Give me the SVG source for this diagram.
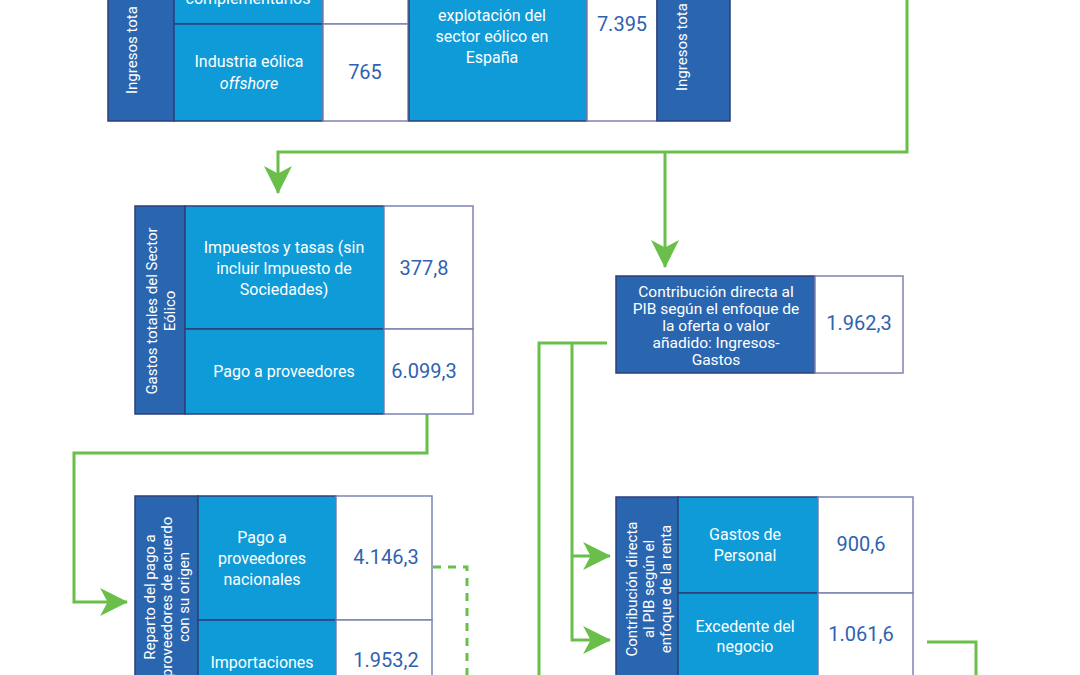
<svg xmlns="http://www.w3.org/2000/svg" width="1080" height="675" viewBox="0 0 1080 675">
<defs>
<style>
.dk{fill:#2a66b0;stroke:#2f3f78;stroke-width:1.5}
.lb{fill:#0e9bd7;stroke:#2f3f78;stroke-width:1.5}
.wh{fill:#ffffff;stroke:#7f82b4;stroke-width:1.5}
.t{font-family:Roboto,"Liberation Sans",sans-serif;font-size:16px;font-weight:400;fill:#ffffff;text-anchor:middle}
.s{font-family:Roboto,"Liberation Sans",sans-serif;font-size:15.5px;font-weight:400;fill:#ffffff;text-anchor:middle}
.r{font-family:Roboto,"Liberation Sans",sans-serif;font-size:15px;font-weight:400;fill:#ffffff;text-anchor:middle}
.v{font-family:Roboto,"Liberation Sans",sans-serif;font-size:20px;font-weight:400;fill:#2f62b0;text-anchor:middle}
.c{fill:none;stroke:#6abf4b;stroke-width:3}
.d{fill:none;stroke:#6abf4b;stroke-width:3;stroke-dasharray:8 7}
</style>
<marker id="ar" markerUnits="userSpaceOnUse" markerWidth="28" markerHeight="28" viewBox="0 0 26 26" refX="25" refY="13" orient="auto">
<path d="M0,0 L26,13 L0,26 L7,13 Z" fill="#6abf4b"/>
</marker>
</defs>
<rect width="1080" height="675" fill="#ffffff"/>

<g id="connectors">
<path class="c" d="M907,-5 V152 H278 V193" marker-end="url(#ar)"/>
<path class="c" d="M665,152 V267" marker-end="url(#ar)"/>
<path class="c" d="M427,414 V453 H74 V602 H127" marker-end="url(#ar)"/>
<path class="c" d="M607,343 H539 V680"/>
<path class="c" d="M572,343 V640 H610" marker-end="url(#ar)"/>
<path class="c" d="M572,556 H610" marker-end="url(#ar)"/>
<path class="d" d="M433,567 H467 V680"/>
<path class="c" d="M927,642 H976 V680"/>
</g>

<g id="ingresos-totales">
<rect class="dk" x="108" y="-10" width="66" height="131"/>
<rect class="lb" x="174" y="-10" width="149" height="34"/>
<rect class="wh" x="323" y="-10" width="85" height="34"/>
<rect class="lb" x="174" y="24" width="149" height="97"/>
<rect class="wh" x="323" y="24" width="85" height="97"/>
<text class="r" transform="translate(137,94) rotate(-90)" style="text-anchor:start">Ingresos tota</text>
<text class="t" x="248" y="4">complementarios</text>
<text class="t" x="249" y="67">Industria eólica</text>
<text class="t" x="249" y="89" font-style="italic">offshore</text>
<text class="v" x="365" y="79">765</text>
</g>

<g id="ingresos-explotacion">
<rect class="lb" x="409" y="-10" width="178" height="131"/>
<rect class="wh" x="587" y="-10" width="70" height="131"/>
<rect class="dk" x="657" y="-10" width="73" height="131"/>
<text class="t" x="492" y="21">explotación del</text>
<text class="t" x="492" y="42">sector eólico en</text>
<text class="t" x="492" y="63">España</text>
<text class="v" x="622" y="31">7.395</text>
<text class="r" transform="translate(687,91) rotate(-90)" style="text-anchor:start">Ingresos tota</text>
</g>

<g id="gastos-totales">
<rect class="dk" x="135" y="206" width="50" height="208"/>
<rect class="lb" x="185" y="206" width="199" height="123"/>
<rect class="wh" x="384" y="206" width="89" height="123"/>
<rect class="lb" x="185" y="329" width="199" height="85"/>
<rect class="wh" x="384" y="329" width="89" height="85"/>
<text class="r" transform="translate(157,311) rotate(-90)">Gastos totales del Sector</text>
<text class="r" transform="translate(175,311) rotate(-90)">Eólico</text>
<text class="t" x="284" y="253">Impuestos y tasas (sin</text>
<text class="t" x="284" y="274">incluir Impuesto de</text>
<text class="t" x="284" y="295">Sociedades)</text>
<text class="v" x="424" y="275">377,8</text>
<text class="t" x="284" y="377">Pago a proveedores</text>
<text class="v" x="424" y="378">6.099,3</text>
</g>

<g id="contribucion-oferta">
<rect class="dk" x="616" y="276" width="199" height="97"/>
<rect class="wh" x="815" y="276" width="88" height="97"/>
<text class="s" x="716" y="297">Contribución directa al</text>
<text class="s" x="716" y="314">PIB según el enfoque de</text>
<text class="s" x="716" y="331">la oferta o valor</text>
<text class="s" x="716" y="348">añadido: Ingresos-</text>
<text class="s" x="716" y="365">Gastos</text>
<text class="v" x="859" y="330">1.962,3</text>
</g>

<g id="reparto-pago">
<rect class="dk" x="135" y="496" width="63" height="190"/>
<rect class="lb" x="198" y="496" width="138" height="124"/>
<rect class="wh" x="336" y="496" width="96" height="124"/>
<rect class="lb" x="198" y="620" width="138" height="66"/>
<rect class="wh" x="336" y="620" width="96" height="66"/>
<text class="r" transform="translate(155,597) rotate(-90)">Reparto del pago a</text>
<text class="r" transform="translate(172,597) rotate(-90)">proveedores de acuerdo</text>
<text class="r" transform="translate(189,597) rotate(-90)">con su origen</text>
<text class="t" x="262" y="543">Pago a</text>
<text class="t" x="262" y="564">proveedores</text>
<text class="t" x="262" y="585">nacionales</text>
<text class="v" x="386" y="564">4.146,3</text>
<text class="t" x="262" y="668">Importaciones</text>
<text class="v" x="386" y="667">1.953,2</text>
</g>

<g id="contribucion-renta">
<rect class="dk" x="616" y="497" width="62" height="190"/>
<rect class="lb" x="678" y="497" width="140" height="96"/>
<rect class="wh" x="818" y="497" width="95" height="96"/>
<rect class="lb" x="678" y="593" width="140" height="94"/>
<rect class="wh" x="818" y="593" width="95" height="94"/>
<text class="r" transform="translate(637,589) rotate(-90)">Contribución directa</text>
<text class="r" transform="translate(654,589) rotate(-90)">al PIB según el</text>
<text class="r" transform="translate(671,589) rotate(-90)">enfoque de la renta</text>
<text class="t" x="745" y="540">Gastos de</text>
<text class="t" x="745" y="561">Personal</text>
<text class="v" x="861" y="551">900,6</text>
<text class="t" x="745" y="632">Excedente del</text>
<text class="t" x="745" y="652">negocio</text>
<text class="v" x="861" y="641">1.061,6</text>
</g>
</svg>
